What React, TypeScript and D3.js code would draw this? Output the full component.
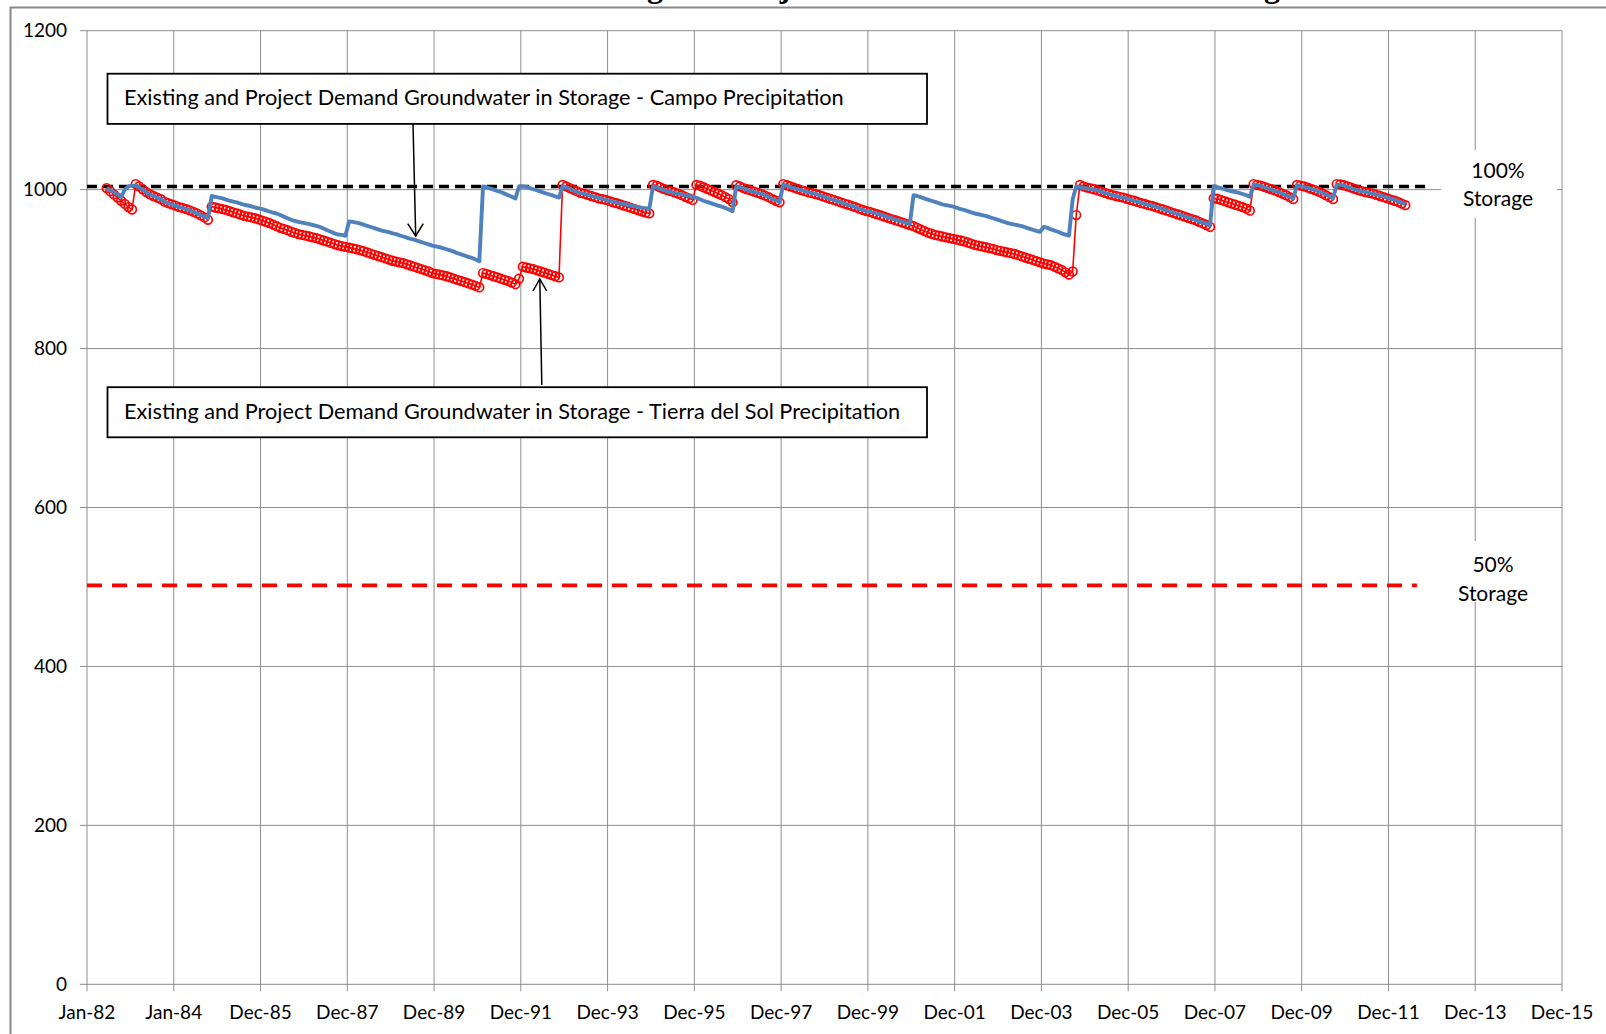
import React, { useEffect } from 'react';
import * as d3 from 'd3';

// ---------- DATA ----------
const AXIS_START = new Date(1982, 0, 1);
const TICK_STEP_DAYS = 730;
const tickLabels = [
  'Jan-82', 'Jan-84', 'Dec-85', 'Dec-87', 'Dec-89', 'Dec-91', 'Dec-93', 'Dec-95', 'Dec-97',
  'Dec-99', 'Dec-01', 'Dec-03', 'Dec-05', 'Dec-07', 'Dec-09', 'Dec-11', 'Dec-13', 'Dec-15',
];
const yTicks = [0, 200, 400, 600, 800, 1000, 1200];

// monthly values, first value = June 1982, last = May 2012
const FIRST_MONTH = new Date(1982, 5, 15);

const campo = [
  1002, 999, 997, 994, 991, 1000, 1004, 1005, 1005,
  1003, 1000, 997, 994, 992, 990, 988, 985, 983, 981.5, 980, 978, 977, 975.5, 974, 972, 970, 968, 966, 964,
  992, 991, 990, 989, 987.5, 986, 985, 984, 982.5, 981, 980, 979, 977.5, 976.5, 975.5, 974, 972.5, 971, 970, 968,
  966, 964, 962, 960.5, 959.5, 958.5, 957.5, 956.5, 955.5, 954.5, 953, 951, 949, 947, 945, 943.5, 943, 942,
  960, 959.5, 958.5, 957.5, 956, 954.5, 953, 951.5, 950, 948.5, 947.5, 946.5, 945, 944, 942.5, 941, 939.5, 938,
  937, 935.5, 934, 932.5, 931, 929.5, 928.5, 927.5, 926.5, 925, 923.5, 922, 920, 918.5, 917, 915.5, 914, 912, 910,
  1004, 1003, 1001.5, 1000, 998.5, 997, 995, 993, 991, 989,
  1004, 1004, 1003.5, 1002, 1000.5, 999, 997.5, 996, 994.5, 993, 991.5, 990,
  1004, 1003, 1001, 999, 997, 996, 995, 993.5, 992, 991, 989.5, 988.5, 987, 986, 985, 984, 983, 982, 981, 980,
  979, 978, 977, 976.5, 976,
  1004, 1003, 1001, 999.5, 998, 997, 996, 995, 994, 993, 992, 991, 989.5, 988, 986, 984.5, 983, 981.5, 980, 978.5,
  977, 975, 973,
  1004, 1003, 1001.5, 1000, 998.5, 997, 996, 995, 993, 991, 988, 986.5, 985,
  1006, 1005, 1003.5, 1002, 1001, 999.5, 998, 996.5, 995.5, 994.5, 993, 991.5, 990, 988.5, 987, 985.5, 984, 982.5,
  981, 979.5, 978, 976, 974.5, 973, 972, 971, 970, 968.5, 967, 965.5, 964, 962.5, 961, 959.5, 958, 957,
  993, 992, 990.5, 989, 987.5, 986, 984.5, 983, 981.5, 980.5, 979.5, 978.5, 977, 975.5, 974.5, 973, 971.5, 970,
  969, 968, 967, 965.5, 964, 962.5, 961, 959.5, 958, 957, 956, 955, 954, 952.5, 951, 949.5, 948, 947,
  953, 952, 950, 948.5, 947, 945, 943.5, 942, 988, 1004,
  1003, 1002, 1001.5, 1001, 1000, 999, 997.5, 996, 994.5, 993, 992, 991, 990, 989, 987.5, 986, 985, 983.5, 982,
  981, 980, 978.5, 977, 975.5, 974, 972.5, 971, 969.5, 968, 966.5, 965, 963.5, 962, 960, 958.5, 957, 955,
  1004, 1003, 1002, 1000.5, 999, 998, 997, 996, 994.5, 993, 991,
  1006, 1005.5, 1004.5, 1003, 1001.5, 1000, 998.5, 997, 995, 993, 991, 989,
  1005, 1004.5, 1003.5, 1002.5, 1001, 999.5, 998, 996, 994, 991.5, 989,
  1006, 1006, 1005, 1003.5, 1002, 1000.5, 999, 998, 997, 996, 995, 994, 993, 991.5, 990, 988.5, 987, 985.5,
  983.5, 981.5,
];

const tierraDelSol = [
  1002, 998, 994, 990, 986, 982, 978, 975, 1007,
  1004, 1000.5, 997, 994, 992, 990, 988, 985, 983, 981.5, 980, 978, 977, 975.5, 974, 972, 970, 967.5, 965, 962,
  978.5, 977.5, 976.5, 975.5, 974.5, 973, 971.5, 970, 968.5, 967, 966, 965, 964, 962.5, 961, 959.5, 958, 956,
  954, 952, 950.5, 949, 947, 945.5, 944, 943, 942, 941, 940, 939, 937.5, 936, 934.5, 933, 931.5, 930, 929, 928,
  927, 926, 925, 924, 922.5, 921, 919.5, 918, 916.5, 915, 913.5, 912, 910.5, 909.5, 908.5, 907.5, 906, 904.5,
  903, 901.5, 900, 898.5, 897, 895, 894, 893, 892, 891, 889.5, 888, 886.5, 885, 883.5, 882, 880.5, 879, 877,
  895, 894, 892.5, 891, 889.5, 888, 886.5, 885, 883, 881,
  888, 903, 902, 901, 900, 898.5, 897, 895.5, 894, 892.5, 891, 889.5,
  1006, 1004, 1002, 1000, 998, 996, 995, 993.5, 992, 990.5, 989, 988, 987, 985.5, 984, 983, 981.5, 980, 978.5,
  977, 975.5, 974, 972.5, 971, 970,
  1006, 1005, 1003, 1001, 999.5, 998, 996.5, 995, 993, 991, 989, 987,
  1006, 1005, 1003, 1001, 999, 997, 995, 993, 990.5, 988, 984,
  1005.5, 1004, 1002, 1000.5, 999, 997.5, 996, 994.5, 992.5, 990.5, 988, 986, 984,
  1007, 1005.5, 1004, 1002.5, 1001, 999.5, 998, 996.5, 995.5, 994.5, 993, 991.5, 990, 988.5, 987, 985.5, 984,
  982.5, 981, 979.5, 978, 976, 974.5, 973, 972, 970.5, 969, 967.5, 966, 964.5, 963, 961.5, 960, 958.5, 957, 955.5,
  954, 952, 950, 948, 946, 944.5, 943, 942, 941, 940, 939, 938, 937, 936, 935, 933.5, 932, 930.5, 929.5, 928.5,
  927.5, 926.5, 925.5, 924, 923, 922, 921, 920, 919, 917.5, 916, 914.5, 913, 911.5, 910, 908.5, 907, 906, 905,
  903, 901, 899, 896, 893, 897, 968, 1006,
  1004, 1002.5, 1001.5, 1000.5, 999, 997.5, 996, 994.5, 993, 992, 991, 990, 988.5, 987, 986, 984.5, 983, 982,
  980.5, 979.5, 978, 976.5, 975, 973.5, 972, 970.5, 969, 967.5, 966, 964.5, 963, 961.5, 959.5, 957.5, 955.5, 953,
  989, 988.5, 987, 985.5, 984, 982.5, 981, 979.5, 978, 976, 973.5,
  1007, 1006, 1005, 1003.5, 1002, 1000.5, 999, 997, 995, 993, 990.5, 988,
  1006, 1005, 1004, 1002.5, 1001, 999.5, 997.5, 995.5, 993, 990.5, 988,
  1007, 1006.5, 1005.5, 1004, 1002.5, 1001, 999.5, 998, 997, 996, 995, 993.5, 992, 990.5, 989, 987.5, 986, 984.5,
  982.5, 980.5,
];

const FULL_STORAGE = 1004;
const HALF_STORAGE = 502;
const FULL_LINE_END = new Date(2012, 11, 5);
const HALF_LINE_END = new Date(2012, 7, 20);

const TITLE = 'Existing and Project Demand Groundwater in Storage';
const NOTE_CAMPO = 'Existing and Project Demand Groundwater in Storage - Campo Precipitation';
const NOTE_TDS = 'Existing and Project Demand Groundwater in Storage - Tierra del Sol Precipitation';

const SANS = 'Lato, Carlito, Calibri, "Open Sans", sans-serif';

export default function App() {
  useEffect(() => {
    document.body.style.margin = '0';
    document.body.style.overflow = 'hidden';
  }, []);

  const W = 1606;
  const H = 1034;
  const L = 87, R = 1562, T = 30.7, B = 984.3;

  const xEnd = d3.timeDay.offset(AXIS_START, TICK_STEP_DAYS * (tickLabels.length - 1));
  const x = d3.scaleTime().domain([AXIS_START, xEnd]).range([L, R]);
  const y = d3.scaleLinear().domain([0, 1200]).range([B, T]);
  const tickDates = tickLabels.map((_, i) => d3.timeDay.offset(AXIS_START, TICK_STEP_DAYS * i));

  const campoPts: [Date, number][] = campo.map((v, i) => [d3.timeMonth.offset(FIRST_MONTH, i), v]);
  const tdsPts: [Date, number][] = tierraDelSol.map((v, i) => [d3.timeMonth.offset(FIRST_MONTH, i), v]);
  const line = d3.line<[Date, number]>().x((d) => x(d[0])).y((d) => y(d[1]));

  const grid = '#8e8e8e';

  return (
    <svg width={W} height={H} style={{ position: 'absolute', left: 0, top: 0, background: '#fff' }}>
      <rect x={0} y={0} width={W} height={H} fill="#fff" />
      {/* title, cut off by the top edge as in the source picture */}
      <text x={551} y={-3} fontFamily='"Liberation Serif", "Times New Roman", serif' fontWeight="bold" fontSize={32} fill="#000">
        {TITLE}
      </text>
      {/* chart frame */}
      <rect x={10.5} y={7.5} width={1640} height={1060} fill="none" stroke="#888" strokeWidth={2} />

      {/* gridlines */}
      {yTicks.map((v) => (
        <line key={'hy' + v} x1={L - 7} x2={R} y1={y(v)} y2={y(v)} stroke={grid} strokeWidth={1} />
      ))}
      {tickDates.map((d, i) => (
        <line key={'vx' + i} x1={x(d)} x2={x(d)} y1={T} y2={B + 7} stroke={grid} strokeWidth={1} />
      ))}

      {/* label backgrounds */}
      <rect x={1441} y={150} width={116} height={68} fill="#fff" />
      <rect x={1424} y={541} width={122} height={61} fill="#fff" />

      {/* y labels */}
      {yTicks.map((v) => (
        <text key={'yl' + v} x={67} y={y(v) + 6.5} textAnchor="end" fontFamily={SANS} fontSize={19} fill="#000">
          {v}
        </text>
      ))}
      {/* x labels */}
      {tickDates.map((d, i) => (
        <text key={'xl' + i} x={x(d)} y={1019} textAnchor="middle" fontFamily={SANS} fontSize={19} fill="#000">
          {tickLabels[i]}
        </text>
      ))}

      {/* reference lines */}
      <line x1={x(AXIS_START)} x2={x(FULL_LINE_END)} y1={y(FULL_STORAGE)} y2={y(FULL_STORAGE)} stroke="#000" strokeWidth={3.6} strokeDasharray="10,6" />
      <line x1={x(AXIS_START)} x2={x(HALF_LINE_END)} y1={y(HALF_STORAGE)} y2={y(HALF_STORAGE)} stroke="#ff0000" strokeWidth={3.6} strokeDasharray="15,10" />

      {/* Tierra del Sol series */}
      <path d={line(tdsPts) || ''} fill="none" stroke="#ff0000" strokeWidth={1.6} />
      {tdsPts.map((p, i) => (
        <circle key={'c' + i} cx={x(p[0])} cy={y(p[1])} r={4.3} fill="none" stroke="#ff0000" strokeWidth={1.7} />
      ))}
      {/* Campo series */}
      <path d={line(campoPts) || ''} fill="none" stroke="#4f81bd" strokeWidth={3.9} strokeLinejoin="round" />

      {/* storage labels */}
      <text x={1498} y={178} textAnchor="middle" fontFamily={SANS} fontSize={21} fill="#000">100%</text>
      <text x={1498} y={206} textAnchor="middle" fontFamily={SANS} fontSize={21} fill="#000">Storage</text>
      <text x={1493} y={572} textAnchor="middle" fontFamily={SANS} fontSize={21} fill="#000">50%</text>
      <text x={1493} y={601} textAnchor="middle" fontFamily={SANS} fontSize={21} fill="#000">Storage</text>

      {/* annotation boxes */}
      <rect x={107.5} y={73.7} width={819.5} height={50.2} fill="#fff" stroke="#000" strokeWidth={1.8} />
      <text x={124} y={105} fontFamily={SANS} fontSize={21.7} fill="#000">{NOTE_CAMPO}</text>
      <rect x={107.5} y={387.2} width={819.5} height={50.1} fill="#fff" stroke="#000" strokeWidth={1.8} />
      <text x={124} y={419} fontFamily={SANS} fontSize={21.7} fill="#000">{NOTE_TDS}</text>

      {/* arrows */}
      <line x1={413} y1={124} x2={415.7} y2={236} stroke="#000" strokeWidth={1.5} />
      <polyline points="407.7,223.7 415.7,236 423.3,223.7" fill="none" stroke="#000" strokeWidth={1.5} />
      <line x1={541.8} y1={385} x2={539.8} y2={279} stroke="#000" strokeWidth={1.5} />
      <polyline points="533,291 539.8,279 546.7,291" fill="none" stroke="#000" strokeWidth={1.5} />
    </svg>
  );
}
